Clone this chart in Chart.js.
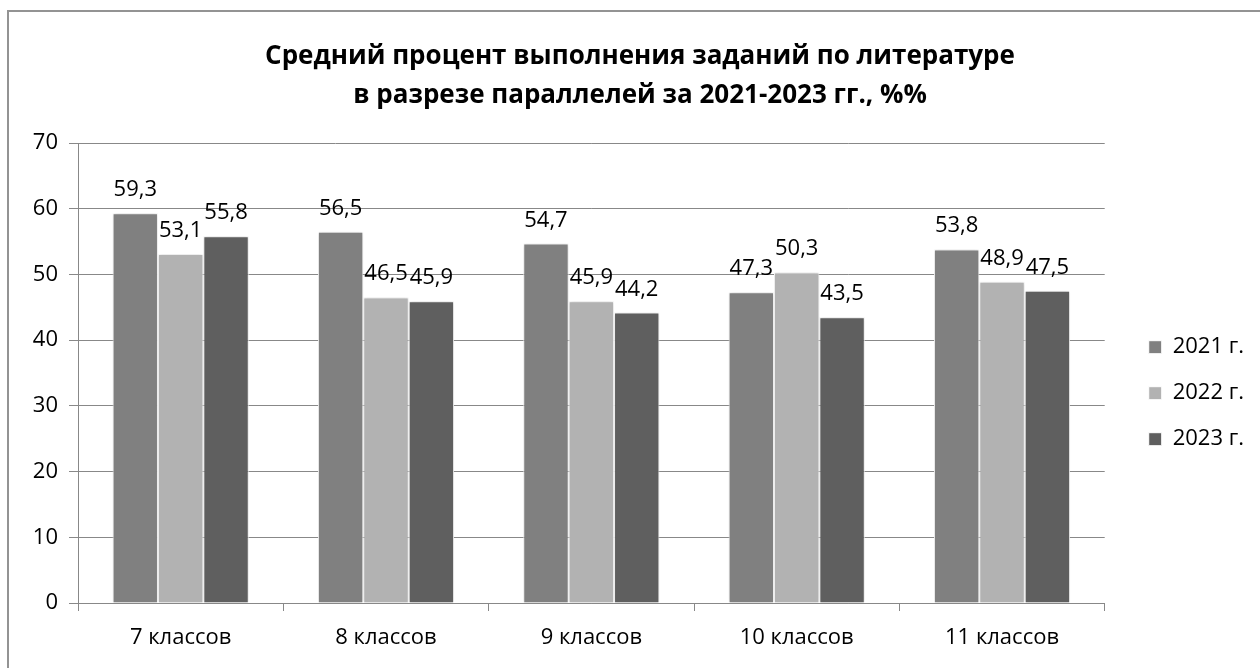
<!DOCTYPE html>
<html>
<head>
<meta charset="utf-8">
<script src="https://cdn.jsdelivr.net/npm/chart.js@4"></script>
<style>
  html, body { margin: 0; padding: 0; background: #fff; overflow: hidden; }
  #wrap { position: relative; width: 1260px; height: 668px; overflow: hidden; }
  #frame { position: absolute; left: 7px; top: 10px; width: 1400px; height: 800px;
           border-left: 2px solid #939393; border-top: 2px solid #939393; }
  #c { position: absolute; left: 0; top: 0; }
</style>
</head>
<body>
<div id="wrap">
  <div id="frame"></div>
  <canvas id="c" width="1280" height="668"></canvas>
</div>
<script>
// data
const categories = ['7 классов', '8 классов', '9 классов', '10 классов', '11 классов'];
const seriesNames = ['2021 г.', '2022 г.', '2023 г.'];
const values2021 = [59.3, 56.5, 54.7, 47.3, 53.8];
const values2022 = [53.1, 46.5, 45.9, 50.3, 48.9];
const values2023 = [55.8, 45.9, 44.2, 43.5, 47.5];
const yTicks = [0, 10, 20, 30, 40, 50, 60, 70];
const titleLines = ['Средний процент выполнения заданий по литературе',
                    'в разрезе параллелей за 2021-2023 гг., %%'];

const colors = ['#808080', '#b2b2b2', '#5f5f5f'];
const FONT = '"Open Sans", "DejaVu Sans", sans-serif';
Chart.defaults.font.family = FONT;
Chart.defaults.color = '#000';

// soft halo behind the bars
const barShadow = {
  id: 'barShadow',
  beforeDatasetsDraw(chart) {
    const ctx = chart.ctx;
    ctx.save();
    ctx.shadowColor = 'rgba(0,0,0,0.18)';
    ctx.shadowBlur = 4;
  },
  afterDatasetsDraw(chart) {
    chart.ctx.restore();
  }
};

// value labels above the bars
const valueLabels = {
  id: 'valueLabels',
  afterDatasetsDraw(chart) {
    const ctx = chart.ctx;
    ctx.save();
    ctx.font = '22px ' + FONT;
    ctx.fillStyle = '#000';
    ctx.textAlign = 'center';
    ctx.textBaseline = 'alphabetic';
    chart.data.datasets.forEach((ds, i) => {
      chart.getDatasetMeta(i).data.forEach((bar, j) => {
        const txt = ds.data[j].toFixed(1).replace('.', ',');
        ctx.fillText(txt, bar.x, bar.y - 17);
      });
    });
    ctx.restore();
  }
};

new Chart(document.getElementById('c'), {
  type: 'bar',
  data: {
    labels: categories,
    datasets: [
      { label: seriesNames[0], data: values2021, backgroundColor: colors[0] },
      { label: seriesNames[1], data: values2022, backgroundColor: colors[1] },
      { label: seriesNames[2], data: values2023, backgroundColor: colors[2] }
    ]
  },
  options: {
    responsive: false,
    animation: false,
    devicePixelRatio: 1,
    datasets: {
      bar: {
        categoryPercentage: 0.663,
        barPercentage: 1,
        borderWidth: 1,
        borderColor: '#ffffff'
      }
    },
    layout: { padding: { left: 26, right: 26, top: 0, bottom: 0 } },
    plugins: {
      title: {
        display: true,
        text: titleLines,
        font: { size: 26, weight: 'bold', lineHeight: 1.5 },
        color: '#000',
        padding: { top: 37, bottom: 28 }
      },
      legend: {
        position: 'right',
        fullSize: false,
        title: { display: true, text: ' ', font: { size: 22 }, padding: 7 },
        labels: { boxWidth: 13, boxHeight: 13, padding: 24, font: { size: 22 }, color: '#000' }
      },
      tooltip: { enabled: false }
    },
    scales: {
      x: {
        grid: { drawOnChartArea: false, color: '#888', tickLength: 8 },
        border: { color: '#888' },
        ticks: { font: { size: 22 }, padding: 14, color: '#000' },
        afterFit: s => { s.height = 65; }
      },
      y: {
        min: 0,
        max: 70,
        afterBuildTicks: s => { s.ticks = yTicks.map(v => ({ value: v })); },
        grid: { color: '#888', tickLength: 9 },
        border: { color: '#888' },
        ticks: { font: { size: 22 }, padding: 11, color: '#000' },
        afterFit: s => { s.width = 52; }
      },
      yR: {
        position: 'right',
        display: true,
        grid: { display: false },
        border: { display: false },
        ticks: { display: false },
        afterFit: s => { s.width = 20; }
      }
    }
  },
  plugins: [barShadow, valueLabels]
});
</script>
</body>
</html>
